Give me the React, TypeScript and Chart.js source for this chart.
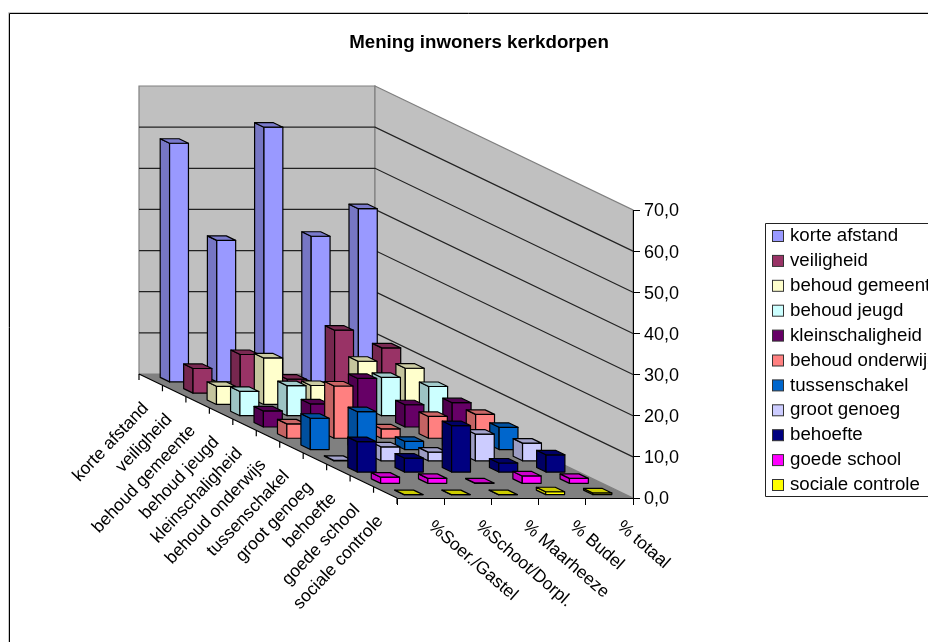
import React, { useEffect, useRef } from "react";
import { Chart, BarController, registerables } from "chart.js";

Chart.register(...registerables);

const columns = ["%Soer./Gastel", "%Schoot/Dorpl.", "% Maarheeze", "% Budel", "% totaal"];
const categories = ["korte afstand", "veiligheid", "behoud gemeente", "behoud jeugd", "kleinschaligheid", "behoud onderwijs", "tussenschakel", "groot genoeg", "behoefte", "goede school", "sociale controle"];

const korteAfstand = [58.0, 34.4, 61.9, 35.4, 42.1];
const veiligheid = [6.0, 9.4, 3.4, 15.3, 11.0];
const behoudGemeente = [4.4, 11.3, 4.6, 10.5, 8.8];
const behoudJeugd = [5.9, 7.3, 4.0, 9.3, 7.1];
const kleinschaligheid = [3.9, 5.6, 11.8, 5.4, 5.9];
const behoudOnderwijs = [3.5, 12.7, 2.3, 5.3, 5.8];
const tussenschakel = [7.6, 9.2, 2.0, 3.5, 5.4];
const grootGenoeg = [0.1, 3.4, 2.1, 6.5, 4.3];
const behoefte = [7.4, 3.4, 11.3, 2.2, 4.2];
const goedeSchool = [1.5, 1.2, 0.1, 1.8, 1.2];
const socialeControle = [0, 0, 0, 0.7, 0.4];

const seriesValues = [korteAfstand, veiligheid, behoudGemeente, behoudJeugd, kleinschaligheid, behoudOnderwijs, tussenschakel, grootGenoeg, behoefte, goedeSchool, socialeControle];
const colors = ["#9999FF", "#993366", "#FFFFCC", "#CCFFFF", "#660066", "#FF8080", "#0066CC", "#CCCCFF", "#000080", "#FF00FF", "#FFFF00"];

const DEPTH_DX = 258;
const DEPTH_DY = 124;
const GAP = 2.5;
const FONT = "Arial, 'Liberation Sans', sans-serif";
const TEXT_SIZE = 18.7;
const ROTATED_SIZE = 17.5;

function shade(hex: string, k: number) {
  const n = parseInt(hex.slice(1), 16);
  return `rgb(${Math.round(((n >> 16) & 255) * k)},${Math.round(((n >> 8) & 255) * k)},${Math.round((n & 255) * k)})`;
}

function poly(ctx: CanvasRenderingContext2D, pts: number[][], fill: string | null, stroke: string | null, width = 1) {
  ctx.beginPath();
  pts.forEach((p, i) => (i ? ctx.lineTo(p[0], p[1]) : ctx.moveTo(p[0], p[1])));
  ctx.closePath();
  if (fill) {
    ctx.fillStyle = fill;
    ctx.fill();
  }
  if (stroke) {
    ctx.strokeStyle = stroke;
    ctx.lineWidth = width;
    ctx.stroke();
  }
}

// Oblique projection: a point at x pixel, height pixel and depth fraction f (1 = front edge).
const proj = (x: number, y: number, f: number) => [x - (1 - f) * DEPTH_DX, y - (1 - f) * DEPTH_DY];

class Bar3DController extends BarController {
  static id = "bar3d";
  static defaults = BarController.defaults;
  static overrides = BarController.overrides;
  draw() {
    const chart = this.chart;
    const ctx = chart.ctx;
    const meta = this._cachedMeta;
    const xs = chart.scales.x;
    const ys = chart.scales.y;
    const ds = chart.scales.depth;
    const color = this.getDataset().backgroundColor as string;
    const row = meta.index;
    const f = (ds.getPixelForValue(row) - ds.top) / ds.height;
    const halfF = 1 / categories.length / 2 / GAP;
    const halfW = (xs.getPixelForValue(1) - xs.getPixelForValue(0)) / 2 / GAP;
    const base = ys.getPixelForValue(0);
    ctx.save();
    ctx.lineJoin = "round";
    for (let i = meta.data.length - 1; i >= 0; i--) {
      const parsed = this.getParsed(i) as any;
      const c = xs.getPixelForValue(i);
      const top = ys.getPixelForValue(parsed.y);
      const x0 = c - halfW;
      const x1 = c + halfW;
      const f0 = f - halfF;
      const f1 = f + halfF;
      poly(ctx, [proj(x0, top, f0), proj(x0, top, f1), proj(x0, base, f1), proj(x0, base, f0)], shade(color, 0.77), "#000", 1.2);
      poly(ctx, [proj(x0, top, f1), proj(x1, top, f1), proj(x1, base, f1), proj(x0, base, f1)], color, "#000", 1.2);
      poly(ctx, [proj(x0, top, f0), proj(x1, top, f0), proj(x1, top, f1), proj(x0, top, f1)], shade(color, 0.8), "#000", 1.2);
    }
    ctx.restore();
  }
}
Chart.register(Bar3DController);

const scenePlugin = {
  id: "scene",
  beforeDraw(chart: any) {
    const { ctx, chartArea: a, scales } = chart;
    const l = a.left, r = a.right, t = a.top, b = a.bottom;
    ctx.save();
    // frame of the chart object, open at the image's right and bottom
    ctx.strokeStyle = "#c8c8c8";
    ctx.lineWidth = 1;
    ctx.beginPath();
    ctx.moveTo(928, 12.5);
    ctx.lineTo(8.5, 12.5);
    ctx.lineTo(8.5, 642);
    ctx.stroke();
    ctx.strokeStyle = "#000";
    ctx.lineWidth = 1;
    ctx.beginPath();
    ctx.moveTo(928, 13.5);
    ctx.lineTo(9.5, 13.5);
    ctx.lineTo(9.5, 642);
    ctx.stroke();
    // back wall, side wall, floor
    poly(ctx, [proj(l, t, 0), proj(r, t, 0), proj(r, b, 0), proj(l, b, 0)], "#C0C0C0", "#808080", 1.2);
    poly(ctx, [proj(r, t, 0), [r, t], [r, b], proj(r, b, 0)], "#C0C0C0", "#808080", 1.2);
    poly(ctx, [proj(l, b, 0), proj(r, b, 0), [r, b], [l, b]], "#808080", null);
    // grid lines from the value ticks
    ctx.strokeStyle = "#222";
    ctx.lineWidth = 1.2;
    scales.y.ticks.forEach((tk: any) => {
      if (tk.value === 0 || tk.value === scales.y.max) return;
      const y = scales.y.getPixelForValue(tk.value);
      const p0 = proj(l, y, 0);
      const p1 = proj(r, y, 0);
      ctx.beginPath();
      ctx.moveTo(p0[0], p0[1]);
      ctx.lineTo(p1[0], p1[1]);
      ctx.lineTo(r, y);
      ctx.stroke();
    });
    // left floor edge (category axis) with its ticks
    ctx.strokeStyle = "#000";
    ctx.lineWidth = 1.2;
    const p0 = proj(l, b, 0);
    ctx.beginPath();
    ctx.moveTo(p0[0], p0[1]);
    ctx.lineTo(l, b);
    const n = categories.length;
    for (let i = 0; i <= n; i++) {
      const p = proj(l, b, i / n);
      ctx.moveTo(p[0], p[1]);
      ctx.lineTo(p[0], p[1] + 6);
    }
    ctx.stroke();
    ctx.restore();
  },
  afterLayout(chart: any) {
    const title = chart.titleBlock;
    if (title) {
      title.left = 279;
      title.right = 679;
      const h = title.height;
      title.top = 32;
      title.bottom = 32 + h;
    }
  },
  afterDraw(chart: any) {
    const { ctx, chartArea: a, scales } = chart;
    ctx.save();
    ctx.fillStyle = "#000";
    ctx.textBaseline = "middle";
    // value labels
    ctx.font = `18px ${FONT}`;
    ctx.textAlign = "left";
    scales.y.ticks.forEach((tk: any) => {
      ctx.fillText(tk.label, a.right + 11, scales.y.getPixelForValue(tk.value) + 1.5);
    });
    ctx.font = `${ROTATED_SIZE}px ${FONT}`;
    // column labels, falling to the right
    columns.forEach((label, i) => {
      ctx.save();
      ctx.translate(scales.x.getPixelForValue(i) + 10, a.bottom + 26);
      ctx.rotate((41 * Math.PI) / 180);
      ctx.fillText(scales.x.getLabelForValue(i), 0, 0);
      ctx.restore();
    });
    // category labels, rising to the right
    ctx.textAlign = "right";
    categories.forEach((label, i) => {
      const f = (scales.depth.getPixelForValue(i) - scales.depth.top) / scales.depth.height;
      const p = proj(a.left, a.bottom, f);
      ctx.save();
      ctx.translate(p[0] - 5, p[1] + 26);
      ctx.rotate((-46.5 * Math.PI) / 180);
      ctx.fillText(label, 0, 0);
      ctx.restore();
    });
    // legend
    ctx.font = `${TEXT_SIZE}px ${FONT}`;
    ctx.strokeStyle = "#222";
    ctx.lineWidth = 1;
    ctx.beginPath();
    ctx.moveTo(940, 223.5);
    ctx.lineTo(765.5, 223.5);
    ctx.lineTo(765.5, 496.5);
    ctx.lineTo(940, 496.5);
    ctx.stroke();
    ctx.textAlign = "left";
    chart.data.datasets.forEach((d: any, i: number) => {
      const y = 236 + i * 24.9;
      ctx.fillStyle = d.backgroundColor;
      ctx.fillRect(772.5, y - 5.5, 11, 11);
      ctx.strokeStyle = "#333";
      ctx.strokeRect(772.5, y - 5.5, 11, 11);
      ctx.fillStyle = "#000";
      ctx.fillText(d.label, 790, y);
    });
    ctx.restore();
  },
};

export default function App() {
  const ref = useRef<HTMLCanvasElement>(null);
  useEffect(() => {
    const chart = new Chart(ref.current!, {
      type: "bar3d" as any,
      data: {
        labels: columns,
        datasets: categories.map((label, i) => ({
          label,
          data: seriesValues[i],
          backgroundColor: colors[i],
          order: categories.length - i,
          clip: false,
        })) as any,
      },
      options: {
        responsive: false,
        animation: false,
        events: [],
        layout: { padding: { left: 397, right: 255, top: 210 - TEXT_SIZE * 1.2, bottom: 134 } },
        plugins: {
          legend: { display: false },
          tooltip: { enabled: false },
          title: {
            display: true,
            text: "Mening inwoners kerkdorpen",
            color: "#000",
            padding: 0,
            font: { family: FONT, size: TEXT_SIZE, weight: "bold", lineHeight: 1.2 },
          },
        },
        scales: {
          x: {
            type: "category",
            offset: true,
            position: "bottom",
            grid: { offset: true, drawOnChartArea: false, drawTicks: true, tickLength: 7, color: "#000" },
            border: { display: true, color: "#000" },
            ticks: { display: false },
            afterFit: (s: any) => { s.height = 10; },
          },
          y: {
            type: "linear",
            position: "right",
            min: 0,
            max: 70,
            grid: { drawOnChartArea: false, drawTicks: true, tickLength: 7, color: "#000" },
            border: { display: true, color: "#000" },
            ticks: {
              stepSize: 10,
              display: false,
              callback: (v: any) => Number(v).toFixed(1).replace(".", ","),
            },
            afterFit: (s: any) => { s.width = 40; },
          },
          depth: {
            type: "category",
            axis: "y",
            labels: categories,
            offset: true,
            display: false,
          },
        },
      } as any,
      plugins: [scenePlugin],
    });
    return () => chart.destroy();
  }, []);
  return (
    <canvas
      ref={ref}
      width={928}
      height={642}
      style={{ position: "absolute", left: 0, top: 0, display: "block" }}
    />
  );
}
